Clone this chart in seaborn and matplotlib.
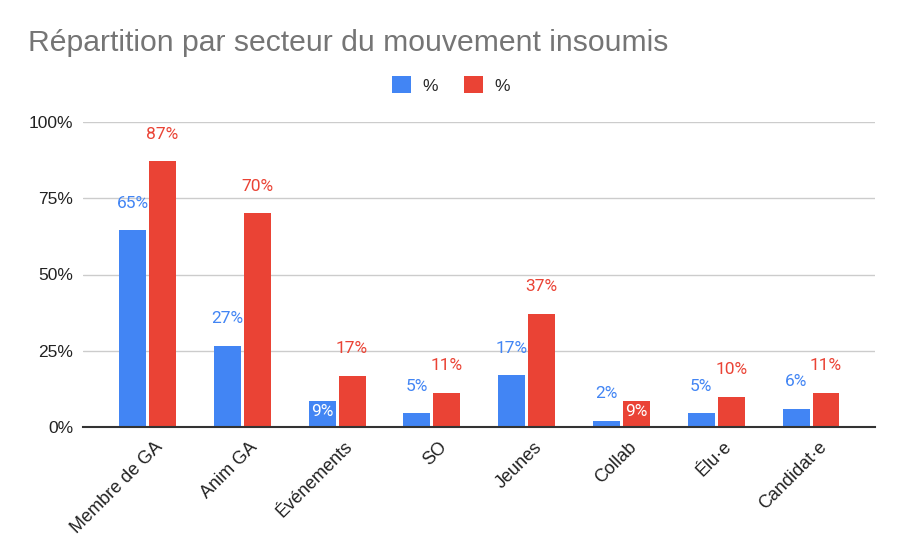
import matplotlib
matplotlib.use("Agg")
import matplotlib.pyplot as plt
from matplotlib.patches import Patch
import matplotlib.transforms as mtransforms
import seaborn as sns
import pandas as pd

categories = ["Membre de GA", "Anim GA", "Événements", "SO", "Jeunes", "Collab", "Élu·e", "Candidat·e"]
serie_bleue = [64.6, 26.6, 8.6, 4.6, 17.0, 2.1, 4.6, 6.0]
serie_rouge = [87.2, 70.0, 16.8, 11.3, 37.1, 8.6, 9.9, 11.3]
series_names = ["%", "%"]
y_ticks = [0, 25, 50, 75, 100]

BLUE = "#4285F4"
RED = "#EA4335"

df = pd.DataFrame({
    "cat": categories * 2,
    "val": serie_bleue + serie_rouge,
    "serie": ["s1"] * len(categories) + ["s2"] * len(categories),
})

sns.set_theme(style="white")
plt.rcParams["font.family"] = ["Liberation Sans", "DejaVu Sans"]

fig = plt.figure(figsize=(9.04, 5.58), dpi=100)
ax = fig.add_axes([83 / 904, 1 - 427 / 558, 792 / 904, 305 / 558])

sns.barplot(data=df, x="cat", y="val", hue="serie", order=categories,
            hue_order=["s1", "s2"], palette=[BLUE, RED], width=0.632, gap=0.1,
            legend=False, ax=ax, saturation=1, edgecolor="none", linewidth=0)

ax.set_xlim(-0.68, 7.675)
ax.set_ylim(0, 100)
ax.set_yticks(y_ticks)
ax.set_yticklabels([f"{t}%" for t in y_ticks])
ax.set_xlabel("")
ax.set_ylabel("")
ax.yaxis.grid(True, color="#cccccc", linewidth=1)
ax.set_axisbelow(True)
for s in ["left", "right", "top"]:
    ax.spines[s].set_visible(False)
ax.spines["bottom"].set_color("#333333")
ax.spines["bottom"].set_linewidth(1.5)
ax.spines["bottom"].set_zorder(5)
ax.tick_params(axis="y", length=0, pad=7, labelsize=12.5, labelcolor="#222222")
ax.tick_params(axis="x", length=0, pad=4, labelsize=13, labelcolor="#222222")
offset = mtransforms.ScaledTranslation(7 / 100, -6 / 100, fig.dpi_scale_trans)
for lab in ax.get_xticklabels():
    lab.set_rotation(45)
    lab.set_ha("right")
    lab.set_rotation_mode("anchor")
    lab.set_transform(lab.get_transform() + offset)

# data labels
inside = {(0, 2), (1, 5)}
colors = [BLUE, RED]
for si, cont in enumerate(ax.containers):
    for i, bar in enumerate(cont):
        h = bar.get_height()
        xc = bar.get_x() + bar.get_width() / 2
        txt = f"{round(h):d}%"
        if (si, i) in inside:
            ax.annotate(txt, (xc, h), xytext=(0, -8), textcoords="offset points",
                        ha="center", va="center", color="white", fontsize=12.5,
                        family=["Roboto", "DejaVu Sans"], zorder=6)
        else:
            ax.annotate(txt, (xc, h), xytext=(0, 19.4), textcoords="offset points",
                        ha="center", va="center", color=colors[si], fontsize=12.5,
                        family=["Roboto", "DejaVu Sans"], zorder=6)

fig.text(28 / 904, 1 - 43 / 558, "Répartition par secteur du mouvement insoumis",
         fontsize=21.7, color="#757575", ha="left", va="center")

handles = [Patch(facecolor=BLUE, edgecolor="none"), Patch(facecolor=RED, edgecolor="none")]
fig.legend(handles, series_names, loc="center", bbox_to_anchor=(451 / 904, 1 - 85 / 558),
           ncol=2, frameon=False, fontsize=12.5, handlelength=1.1, handleheight=1.1,
           handletextpad=0.65, columnspacing=1.5)

fig.savefig("out.png", dpi=100)
